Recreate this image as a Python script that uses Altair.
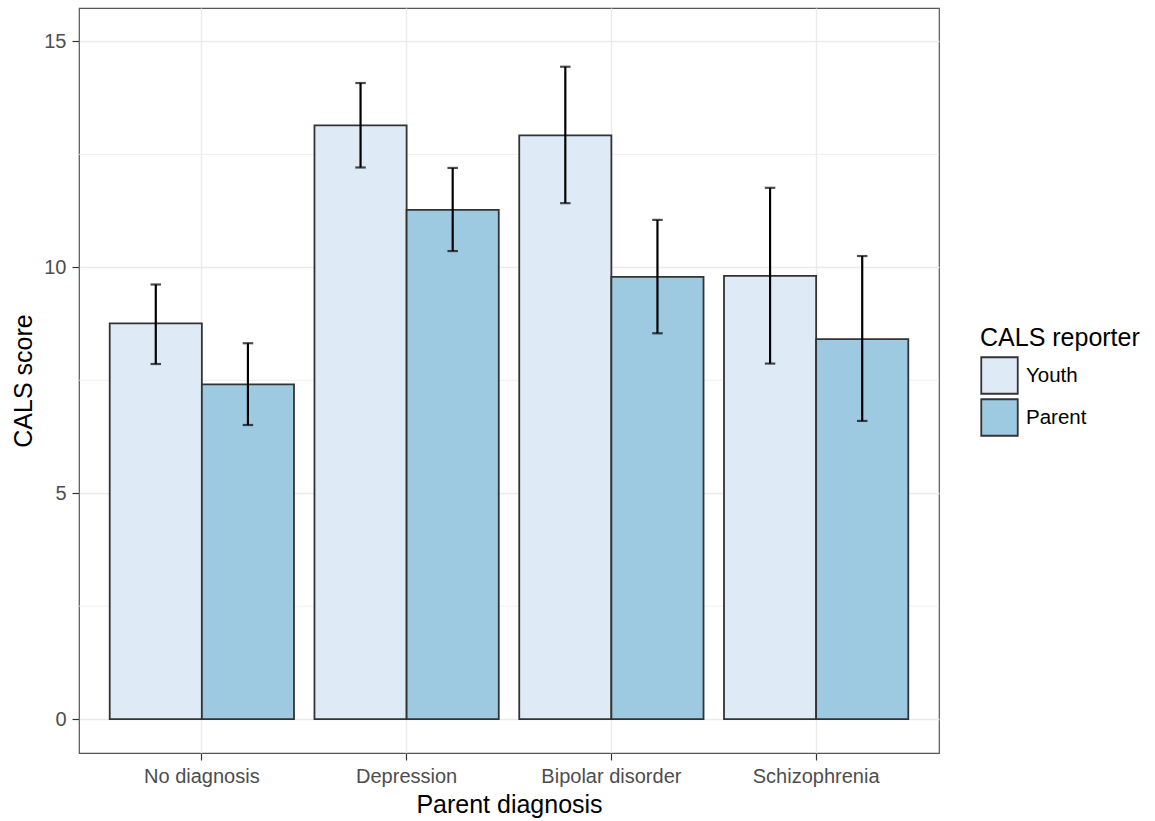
import altair as alt
import pandas as pd

# Mean CALS score per parent diagnosis, with the interval ends for each reporter
diagnoses = ["No diagnosis", "Depression", "Bipolar disorder", "Schizophrenia"]
reporters = ["Youth", "Parent"]
youth_mean = [8.76, 13.14, 12.92, 9.81]
youth_low = [7.86, 12.21, 11.42, 7.87]
youth_high = [9.62, 14.08, 14.44, 11.76]
parent_mean = [7.41, 11.27, 9.79, 8.41]
parent_low = [6.51, 10.36, 8.54, 6.60]
parent_high = [8.32, 12.20, 11.05, 10.25]
major_breaks = [0, 5, 10, 15]
minor_breaks = [2.5, 7.5, 12.5]
fill_colors = ["#DEEBF7", "#9ECAE1"]

rows = []
for i, d in enumerate(diagnoses):
    rows.append({"diagnosis": d, "reporter": "Youth", "score": youth_mean[i],
                 "low": youth_low[i], "high": youth_high[i]})
    rows.append({"diagnosis": d, "reporter": "Parent", "score": parent_mean[i],
                 "low": parent_low[i], "high": parent_high[i]})
df = pd.DataFrame(rows)
minor_df = pd.DataFrame({"v": minor_breaks})

FONT = "Liberation Sans"
yscale = alt.Scale(domain=[-0.75, 15.74], nice=False, zero=False)

y_axis = alt.Axis(title="CALS score", values=major_breaks, format="d",
                  grid=True, gridColor="#EBEBEB", gridWidth=1.4,
                  domain=False, tickColor="#333333", tickSize=7, tickWidth=1.2,
                  labelColor="#4D4D4D", labelFontSize=20, labelPadding=6,
                  labelFont=FONT, titleFont=FONT, titleFontSize=25,
                  titleFontWeight="normal", titleColor="#000000",
                  titlePadding=7)

x_axis = alt.Axis(title="Parent diagnosis", labelAngle=0, bandPosition=0.5,
                  grid=True, gridColor="#EBEBEB", gridWidth=1.4,
                  domain=False, tickColor="#333333", tickSize=7, tickWidth=1.2,
                  labelColor="#4D4D4D", labelFontSize=20, labelPadding=6,
                  labelFont=FONT, titleFont=FONT, titleFontSize=25,
                  titleFontWeight="normal", titleColor="#000000", titlePadding=6)

x_enc = alt.X("diagnosis:N", sort=diagnoses,
              scale=alt.Scale(paddingInner=0.1, paddingOuter=0.15), axis=x_axis)
xo_enc = alt.XOffset("reporter:N", sort=reporters,
                     scale=alt.Scale(paddingInner=0, paddingOuter=0))

# Minor horizontal grid lines between the labelled breaks
minor_grid = alt.Chart(minor_df).mark_rule(color="#EBEBEB", strokeWidth=0.8).encode(
    y=alt.Y("v:Q", scale=yscale, axis=y_axis)
)

bars = alt.Chart(df).mark_bar(stroke="#333333", strokeWidth=1.8).encode(
    x=x_enc,
    xOffset=xo_enc,
    y=alt.Y("score:Q", scale=yscale, axis=y_axis),
    y2=alt.datum(0),
    color=alt.Color("reporter:N", sort=reporters,
                    scale=alt.Scale(domain=reporters, range=fill_colors),
                    legend=alt.Legend(title="CALS reporter", orient="none",
                                      legendX=901, legendY=318,
                                      symbolType="square", symbolSize=1330,
                                      symbolStrokeColor="#333333", symbolStrokeWidth=1.8,
                                      symbolOpacity=1, rowPadding=-8,
                                      labelFont=FONT, labelFontSize=20.5, labelColor="#000000",
                                      labelOffset=7,
                                      titleFont=FONT, titleFontSize=25,
                                      titleFontWeight="normal", titleColor="#000000",
                                      titlePadding=5)),
)

whiskers = alt.Chart(df).mark_rule(color="#000000", strokeWidth=2.2).encode(
    x=alt.X("diagnosis:N", sort=diagnoses, axis=x_axis),
    xOffset=alt.XOffset("reporter:N", sort=reporters),
    y=alt.Y("low:Q", scale=yscale, axis=y_axis),
    y2="high:Q",
)
caps_low = alt.Chart(df).mark_tick(color="#000000", size=10.5, thickness=2.2).encode(
    x=alt.X("diagnosis:N", sort=diagnoses, axis=x_axis),
    xOffset=alt.XOffset("reporter:N", sort=reporters),
    y=alt.Y("low:Q", scale=yscale, axis=y_axis),
)
caps_high = alt.Chart(df).mark_tick(color="#000000", size=10.5, thickness=2.2).encode(
    x=alt.X("diagnosis:N", sort=diagnoses, axis=x_axis),
    xOffset=alt.XOffset("reporter:N", sort=reporters),
    y=alt.Y("high:Q", scale=yscale, axis=y_axis),
)

chart = alt.layer(minor_grid, bars, whiskers, caps_low, caps_high).properties(
    width=860, height=745,
    autosize=alt.AutoSizeParams(type="none"),
    padding={"left": 79, "top": 8, "right": 216, "bottom": 68},
    background="#FFFFFF",
).configure_view(stroke="#555555", strokeWidth=1.2)

chart.save("out.html", embed_options={"renderer": "svg", "actions": False})
